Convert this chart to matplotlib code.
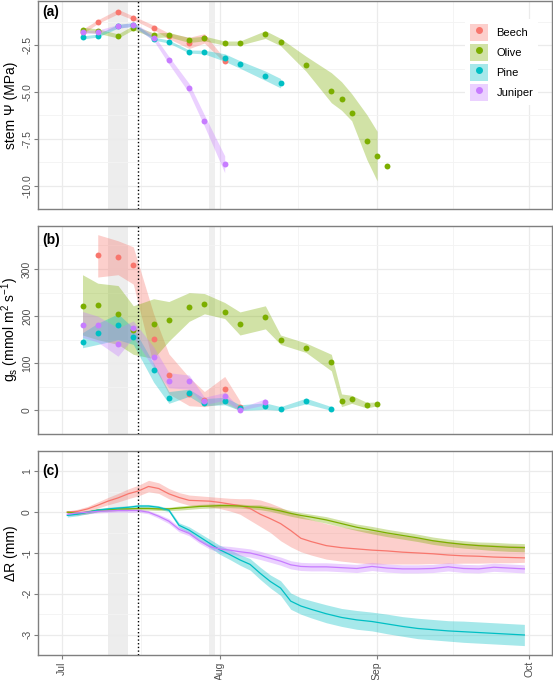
import numpy as np
import matplotlib
matplotlib.use("Agg")
import matplotlib.pyplot as plt
from matplotlib.lines import Line2D
from matplotlib.patches import Patch

plt.rcParams["font.family"] = ["Liberation Sans", "DejaVu Sans"]

### species and colours (ggplot hue palette)
species = ["Beech", "Olive", "Pine", "Juniper"]
colors = ["#F8766D", "#7CAE00", "#00BFC4", "#C77CFF"]

### x axis: days since 1 July
month_ticks = [0, 31, 62, 92]
month_labels = ["Jul", "Aug", "Sep", "Oct"]
drought_span = [9, 13]
small_span = [29, 30]
rewet_day = 15

#########################################################################
### (a) stem water potential (MPa)
psi_days = {
    "Beech": [4, 7, 11, 14, 18, 21, 25, 28, 32],
    "Olive": [4, 7, 11, 14, 18, 21, 25, 28, 32, 35, 40, 43, 48, 53, 55, 57, 60, 62, 64],
    "Pine": [4, 7, 11, 14, 18, 21, 25, 28, 32, 35, 40, 43],
    "Juniper": [4, 7, 11, 14, 18, 21, 25, 28, 32],
}
psi_mean = {
    "Beech": [-1.78, -1.25, -0.71, -1.05, -1.56, -2.01, -2.38, -2.14, -3.33],
    "Olive": [-1.67, -1.75, -2.01, -1.56, -1.97, -1.94, -2.23, -2.14, -2.39, -2.39,
              -1.91, -2.33, -3.54, -4.95, -5.35, -6.12, -7.61, -8.39, -8.93],
    "Pine": [-2.09, -1.99, -1.49, -1.40, -2.15, -2.31, -2.84, -2.87, -3.16, -3.53, -4.13, -4.53],
    "Juniper": [-1.80, -1.78, -1.50, -1.40, -2.10, -3.30, -4.80, -6.52, -8.85],
}
psi_lo = {
    "Beech": [-1.90, -1.35, -0.83, -1.15, -1.68, -2.16, -2.68, -2.39, -3.43],
    "Olive": [-1.80, -1.87, -2.12, -1.68, -2.10, -2.06, -2.36, -2.27, -2.50, -2.50,
              -2.14, -2.53, -3.89, -5.57, -5.97, -6.53, -8.61, -9.73, np.nan],
    "Pine": [-2.17, -2.07, -1.59, -1.50, -2.23, -2.39, -2.92, -2.97, -3.36, -3.73, -4.38, -4.78],
    "Juniper": [-1.88, -1.86, -1.60, -1.50, -2.25, -3.50, -5.05, -6.82, -9.30],
}
psi_hi = {
    "Beech": [-1.66, -1.15, -0.59, -0.95, -1.44, -1.86, -2.08, -1.89, -3.23],
    "Olive": [-1.55, -1.63, -1.90, -1.45, -1.85, -1.82, -2.10, -2.02, -2.28, -2.28,
              -1.73, -2.14, -3.09, -3.97, -4.45, -5.09, -6.21, -7.09, np.nan],
    "Pine": [-2.01, -1.91, -1.39, -1.30, -2.07, -2.23, -2.76, -2.77, -2.96, -3.33, -3.88, -4.28],
    "Juniper": [-1.72, -1.70, -1.40, -1.30, -1.95, -3.10, -4.55, -6.22, -8.40],
}

#########################################################################
### (b) stomatal conductance (mmol m2 s-1)
gs_days = {
    "Beech": [7, 11, 14, 18, 21, 25, 28, 32, 35],
    "Olive": [4, 7, 11, 14, 18, 21, 25, 28, 32, 35, 40, 43, 48, 53, 55, 57, 60, 62],
    "Pine": [4, 7, 11, 14, 18, 21, 25, 28, 32, 35, 40, 43, 48, 53],
    "Juniper": [4, 7, 11, 14, 18, 21, 25, 28, 32, 35, 40],
}
gs_mean = {
    "Beech": [329, 325, 308, 151, 76, 35, 22, 46, 8],
    "Olive": [222, 224, 204, 170, 183, 191, 220, 225, 209, 184, 198, 149, 133, 103, 19, 24, 11, 14],
    "Pine": [145, 164, 181, 156, 85, 26, 37, 16, 20, 6, 10, 3, 20, 2],
    "Juniper": [181, 181, 140, 175, 114, 62, 62, 20, 30, 0, 18],
}
gs_lo = {
    "Beech": [283, 288, 268, 95, 35, 10, 8, 15, 0],
    "Olive": [160, 150, 140, 119, 110, 147, 189, 205, 195, 160, 173, 140, 123, 84, 8, 15, 5, 10],
    "Pine": [133, 140, 150, 140, 60, 15, 30, 10, 12, 0, 2, 0, 14, 0],
    "Juniper": [155, 145, 115, 155, 90, 48, 45, 12, 22, 0, 12],
}
gs_hi = {
    "Beech": [373, 360, 347, 205, 120, 70, 40, 72, 20],
    "Olive": [288, 270, 265, 222, 237, 231, 250, 248, 229, 209, 222, 160, 143, 119, 35, 32, 17, 18],
    "Pine": [165, 185, 205, 175, 100, 40, 45, 25, 28, 12, 16, 8, 26, 8],
    "Juniper": [210, 200, 175, 190, 135, 80, 75, 28, 38, 5, 25],
}

#########################################################################
### (c) stem radius change (mm)
dr_days = [1, 3, 5, 7, 9, 11, 13, 15, 17, 19, 21, 23, 25, 27, 29, 31, 33, 35, 37, 39,
           41, 43, 45, 47, 49, 52, 55, 58, 61, 64, 67, 70, 73, 76, 79, 82, 85, 88, 91]
dr_mean = {
    "Beech": [0.00, 0.02, 0.08, 0.17, 0.27, 0.35, 0.45, 0.52, 0.63, 0.58, 0.45, 0.36, 0.29,
              0.28, 0.27, 0.24, 0.20, 0.16, 0.09, -0.05, -0.16, -0.28, -0.45, -0.64, -0.72,
              -0.82, -0.87, -0.90, -0.93, -0.95, -0.98, -1.00, -1.02, -1.05, -1.07, -1.08,
              -1.10, -1.11, -1.12],
    "Olive": [0.00, -0.03, 0.00, 0.05, 0.06, 0.08, 0.08, 0.09, 0.09, 0.08, 0.08, 0.10, 0.12,
              0.14, 0.15, 0.16, 0.16, 0.15, 0.13, 0.12, 0.08, 0.03, -0.03, -0.08, -0.12,
              -0.19, -0.28, -0.37, -0.44, -0.51, -0.57, -0.63, -0.70, -0.75, -0.79, -0.82,
              -0.84, -0.86, -0.87],
    "Pine": [-0.08, -0.05, 0.00, 0.05, 0.08, 0.10, 0.12, 0.15, 0.15, 0.12, 0.05, -0.32, -0.44,
             -0.60, -0.76, -0.92, -1.04, -1.17, -1.28, -1.50, -1.70, -1.86, -2.18, -2.30,
             -2.38, -2.49, -2.58, -2.64, -2.68, -2.74, -2.80, -2.85, -2.88, -2.91, -2.93,
             -2.95, -2.97, -2.99, -3.01],
    "Juniper": [-0.05, -0.02, 0.00, 0.02, 0.03, 0.04, 0.04, 0.04, 0.00, -0.10, -0.22, -0.42,
                -0.52, -0.70, -0.84, -0.90, -0.93, -0.97, -1.00, -1.06, -1.13, -1.20, -1.29,
                -1.33, -1.34, -1.34, -1.36, -1.38, -1.33, -1.37, -1.39, -1.39, -1.38, -1.34,
                -1.38, -1.39, -1.35, -1.37, -1.39],
}
dr_lo = {
    "Beech": [-0.03, -0.02, 0.03, 0.10, 0.18, 0.25, 0.33, 0.40, 0.50, 0.46, 0.33, 0.24, 0.17,
              0.15, 0.13, 0.09, 0.03, -0.05, -0.20, -0.35, -0.50, -0.70, -0.85, -0.97, -1.05,
              -1.15, -1.20, -1.24, -1.27, -1.27, -1.27, -1.27, -1.26, -1.26, -1.25, -1.25,
              -1.24, -1.24, -1.23],
    "Olive": [-0.04, -0.07, -0.04, 0.01, 0.02, 0.04, 0.04, 0.05, 0.05, 0.04, 0.04, 0.05, 0.07,
              0.09, 0.10, 0.11, 0.11, 0.10, 0.08, 0.06, 0.02, -0.04, -0.10, -0.15, -0.19,
              -0.27, -0.36, -0.45, -0.53, -0.60, -0.66, -0.72, -0.79, -0.84, -0.88, -0.91,
              -0.94, -0.96, -0.97],
    "Pine": [-0.12, -0.09, -0.04, 0.01, 0.04, 0.06, 0.08, 0.11, 0.11, 0.08, 0.01, -0.38, -0.52,
             -0.69, -0.86, -1.03, -1.16, -1.30, -1.42, -1.65, -1.86, -2.04, -2.38, -2.50,
             -2.59, -2.71, -2.80, -2.87, -2.91, -2.98, -3.04, -3.10, -3.13, -3.16, -3.19,
             -3.21, -3.23, -3.25, -3.27],
    "Juniper": [-0.09, -0.06, -0.04, -0.02, -0.01, 0.00, 0.00, 0.00, -0.04, -0.15, -0.28,
                -0.48, -0.58, -0.76, -0.90, -0.98, -1.02, -1.07, -1.10, -1.16, -1.23, -1.30,
                -1.39, -1.43, -1.44, -1.44, -1.46, -1.48, -1.43, -1.47, -1.49, -1.49, -1.48,
                -1.44, -1.48, -1.49, -1.45, -1.47, -1.49],
}
dr_hi = {
    "Beech": [0.03, 0.07, 0.14, 0.25, 0.36, 0.46, 0.57, 0.66, 0.78, 0.72, 0.58, 0.48, 0.42,
              0.40, 0.38, 0.36, 0.34, 0.33, 0.33, 0.30, 0.22, 0.12, 0.00, -0.10, -0.18,
              -0.28, -0.36, -0.42, -0.46, -0.52, -0.58, -0.63, -0.68, -0.72, -0.76, -0.78,
              -0.80, -0.81, -0.82],
    "Olive": [0.04, 0.01, 0.04, 0.09, 0.10, 0.12, 0.12, 0.13, 0.13, 0.12, 0.12, 0.15, 0.17,
              0.19, 0.20, 0.21, 0.21, 0.20, 0.18, 0.18, 0.14, 0.10, 0.04, -0.01, -0.05,
              -0.11, -0.20, -0.29, -0.35, -0.42, -0.48, -0.54, -0.61, -0.66, -0.70, -0.73,
              -0.74, -0.76, -0.77],
    "Pine": [-0.04, -0.01, 0.04, 0.09, 0.12, 0.14, 0.16, 0.19, 0.19, 0.16, 0.09, -0.26, -0.36,
             -0.51, -0.66, -0.81, -0.92, -1.04, -1.14, -1.35, -1.54, -1.68, -1.98, -2.10,
             -2.17, -2.27, -2.36, -2.41, -2.45, -2.50, -2.56, -2.60, -2.63, -2.66, -2.67,
             -2.69, -2.71, -2.73, -2.75],
    "Juniper": [-0.01, 0.02, 0.04, 0.06, 0.07, 0.08, 0.08, 0.08, 0.04, -0.05, -0.16, -0.36,
                -0.46, -0.64, -0.78, -0.82, -0.84, -0.87, -0.90, -0.96, -1.03, -1.10, -1.19,
                -1.23, -1.24, -1.24, -1.26, -1.28, -1.23, -1.27, -1.29, -1.29, -1.28, -1.24,
                -1.28, -1.29, -1.25, -1.27, -1.29],
}

#########################################################################
### figure and panels (positions in figure fraction)
fig = plt.figure(figsize=(5.53, 6.8), dpi=100)
ax_a = fig.add_axes([0.0693, 0.6922, 0.9294, 0.3068])
ax_b = fig.add_axes([0.0693, 0.3618, 0.9294, 0.3063])
ax_c = fig.add_axes([0.0693, 0.0368, 0.9294, 0.3000])

panels = [
    (ax_a, "(a)", 0.947, [-10.17, -0.13], [-10.0, -7.5, -5.0, -2.5], ["-10.0", "-7.5", "-5.0", "-2.5"], 2.5),
    (ax_b, "(b)", 0.93, [-19, 392], [0, 100, 200, 300], ["0", "100", "200", "300"], 100),
    (ax_c, "(c)", 0.90, [-3.5, 1.05], [-3, -2, -1, 0, 1], ["-3", "-2", "-1", "0", "1"], 1),
]

for ax, lab, ylab_pos, ylim, yt, ytl, step in panels:
    ax.set_xlim(-4.7, 96.5)
    ax.set_ylim(ylim)
    ax.set_yticks(yt)
    ax.set_yticklabels(ytl)
    ax.set_yticks([v + step / 2 for v in [yt[0] - step] + yt], minor=True)
    ax.set_xticks(month_ticks)
    ax.set_xticks([15.5, 46.5, 77], minor=True)
    ax.grid(which="major", color="#EBEBEB", lw=0.9, zorder=0)
    ax.grid(which="minor", color="#F3F3F3", lw=0.6, zorder=0)
    ax.set_axisbelow(True)
    ax.axvspan(drought_span[0], drought_span[1], color="#EDEDED", lw=0, zorder=0.5)
    ax.axvspan(small_span[0], small_span[1], color="#EFEFEF", lw=0, zorder=0.5)
    ax.axvline(rewet_day, color="black", ls=":", lw=1.0, zorder=5)
    for sp in ax.spines.values():
        sp.set_color("#7F7F7F")
        sp.set_linewidth(1.0)
    ax.tick_params(which="minor", length=0)
    ax.tick_params(axis="y", which="major", length=3, color="#7F7F7F", labelsize=7.5,
                   labelcolor="#4D4D4D", labelrotation=90, pad=1.5)
    for t in ax.get_yticklabels():
        t.set_va("center")
    ax.text(0.007, ylab_pos, lab, transform=ax.transAxes, fontsize=10, fontweight="bold",
            va="center", ha="left")
    ax.yaxis.set_label_coords(-0.040, 0.5)

for ax in [ax_a, ax_b]:
    ax.tick_params(axis="x", which="major", length=0, labelbottom=False)
ax_c.set_xticklabels(month_labels)
ax_c.tick_params(axis="x", which="major", length=3, color="#7F7F7F", labelsize=7.5,
                 labelcolor="#4D4D4D", labelrotation=90, pad=1.5)

### (a)
for sp, col in zip(species, colors):
    ax_a.fill_between(psi_days[sp], psi_lo[sp], psi_hi[sp], color=col, alpha=0.35, lw=0, zorder=2)
for sp, col in zip(species, colors):
    ax_a.scatter(psi_days[sp], psi_mean[sp], s=18, color=col, lw=0, zorder=3)
ax_a.set_ylabel("stem \u03a8 (MPa)", fontsize=10)

### (b)
for sp, col in zip(species, colors):
    ax_b.fill_between(gs_days[sp], gs_lo[sp], gs_hi[sp], color=col, alpha=0.35, lw=0, zorder=2)
for sp, col in zip(species, colors):
    ax_b.scatter(gs_days[sp], gs_mean[sp], s=18, color=col, lw=0, zorder=3)
ax_b.set_ylabel("g$_\\mathregular{s}$ (mmol m$^\\mathregular{2}$ s$^\\mathregular{-1}$)", fontsize=10)
ax_b.yaxis.set_label_coords(-0.034, 0.5)

### (c)
for sp, col in zip(species, colors):
    ax_c.fill_between(dr_days, dr_lo[sp], dr_hi[sp], color=col, alpha=0.35, lw=0, zorder=2)
for sp, col in zip(species, colors):
    ax_c.plot(dr_days, dr_mean[sp], color=col, lw=0.9, zorder=3)
ax_c.set_ylabel("\u0394R (mm)", fontsize=10)

### legend
handles = [(Patch(facecolor=col, alpha=0.35, lw=0),
            Line2D([], [], ls="", marker="o", ms=4, color=col)) for col in colors]
leg = ax_a.legend(handles, species, loc="upper right", bbox_to_anchor=(0.972, 0.91),
                  frameon=True, fontsize=8, handlelength=1.6, handleheight=2.0,
                  labelspacing=0.25, borderpad=0.4, handletextpad=0.8, borderaxespad=0)
leg.get_frame().set_facecolor("white")
leg.get_frame().set_edgecolor("none")
leg.get_frame().set_alpha(1)
leg.set_zorder(10)

plt.savefig("out.png", dpi=100)
plt.close("all")
